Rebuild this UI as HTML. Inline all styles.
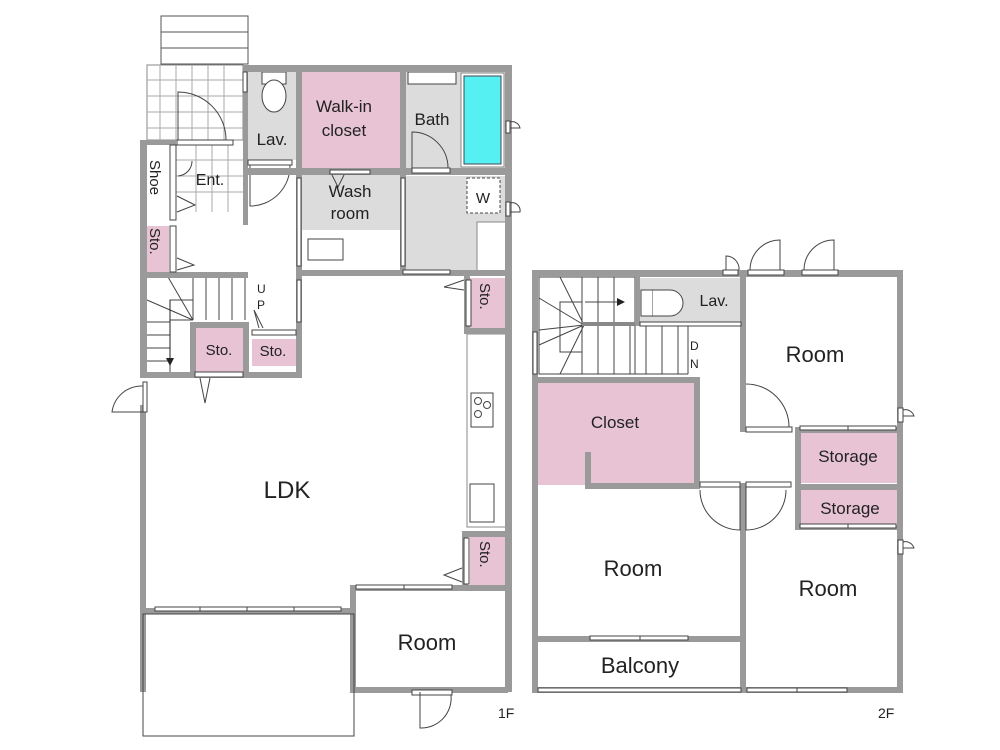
<!DOCTYPE html>
<html><head><meta charset="utf-8"><style>
html,body{margin:0;padding:0;background:#fff;}
svg{display:block;}
text{font-family:"Liberation Sans",sans-serif;fill:#222;}
</style></head><body>
<svg width="1000" height="750" viewBox="0 0 1000 750" xmlns="http://www.w3.org/2000/svg">
<!-- fills 1F -->
<g>
<rect x="147" y="65" width="96" height="75" fill="#fff" stroke="#888" stroke-width="1"/>
<g stroke="#aaa" stroke-width="1">
<line x1="160" y1="65" x2="160" y2="140"/><line x1="176" y1="65" x2="176" y2="140"/><line x1="192" y1="65" x2="192" y2="140"/><line x1="208" y1="65" x2="208" y2="140"/><line x1="224" y1="65" x2="224" y2="140"/>
<line x1="147" y1="80" x2="243" y2="80"/><line x1="147" y1="96" x2="243" y2="96"/><line x1="147" y1="112" x2="243" y2="112"/><line x1="147" y1="128" x2="243" y2="128"/>
<line x1="176" y1="160" x2="244" y2="160"/><line x1="176" y1="176" x2="244" y2="176"/><line x1="176" y1="192" x2="244" y2="192"/>
<line x1="196" y1="145" x2="196" y2="212"/><line x1="212" y1="145" x2="212" y2="212"/><line x1="228" y1="145" x2="228" y2="212"/>
</g>
<rect x="161" y="16" width="87" height="48" fill="#fff" stroke="#555" stroke-width="1"/>
<line x1="161" y1="32" x2="248" y2="32" stroke="#555"/><line x1="161" y1="48" x2="248" y2="48" stroke="#555"/>
<path d="M178 140 V92 A48 48 0 0 1 226 140" fill="none" stroke="#444" stroke-width="1"/>
<rect x="247" y="72" width="50" height="88" fill="#dcdcdc"/>
<rect x="262" y="72" width="24" height="12" fill="#fff" stroke="#444"/>
<ellipse cx="274" cy="96" rx="12" ry="16" fill="#fff" stroke="#444"/>
<rect x="302" y="72" width="98" height="96" fill="#e7c3d3"/>
<rect x="406" y="72" width="100" height="98" fill="#dcdcdc"/>
<rect x="408" y="72" width="48" height="12" fill="#fff" stroke="#444"/>
<rect x="461" y="73" width="43" height="94" fill="#fff" stroke="#888"/>
<rect x="464" y="76" width="37" height="88" fill="#55f0f2" stroke="#445" stroke-width="1"/>
<path d="M412 168 V132 A36 36 0 0 1 448 168" fill="none" stroke="#444"/>
<rect x="302" y="175" width="98" height="55" fill="#dcdcdc"/>
<rect x="308" y="239" width="35" height="21" fill="#fff" stroke="#444"/>
<rect x="406" y="176" width="102" height="96" fill="#dcdcdc"/>
<rect x="477" y="222" width="29" height="50" fill="#fff" stroke="#888"/>
<rect x="467" y="178" width="33" height="35" fill="#fff" stroke="#444" stroke-dasharray="3,2"/>
<text x="483" y="203" font-size="15" text-anchor="middle">W</text>
<path d="M250 165 V206 A40 40 0 0 0 290 165" fill="none" stroke="#444"/>
<rect x="147" y="145" width="22" height="75" fill="#fff"/>
<rect x="147" y="226" width="22" height="46" fill="#e7c3d3"/>
<rect x="470" y="278" width="36" height="50" fill="#e7c3d3"/>
<rect x="467" y="334" width="39" height="193" fill="#fff" stroke="#888"/>
<rect x="471" y="393" width="22" height="34" fill="#fff" stroke="#444"/>
<circle cx="478" cy="401" r="3.5" fill="none" stroke="#444"/><circle cx="487" cy="405" r="3.5" fill="none" stroke="#444"/><circle cx="478" cy="414" r="3.5" fill="none" stroke="#444"/>
<rect x="470" y="484" width="24" height="38" fill="#fff" stroke="#444"/>
<rect x="470" y="537" width="36" height="48" fill="#e7c3d3"/>
<rect x="195" y="328" width="48" height="45" fill="#e7c3d3"/>
<rect x="252" y="339" width="44" height="27" fill="#e7c3d3"/>
<!-- stairs 1F -->
<g stroke="#444" stroke-width="1" fill="none">
<line x1="193" y1="277" x2="193" y2="320"/><line x1="206" y1="277" x2="206" y2="320"/><line x1="219" y1="277" x2="219" y2="320"/><line x1="232" y1="277" x2="232" y2="320"/><line x1="245" y1="277" x2="245" y2="320"/>
<polyline points="170,372 170,300 193,300"/>
<line x1="147" y1="300" x2="193" y2="320"/><line x1="168" y1="277" x2="193" y2="320"/>
<line x1="147" y1="322" x2="170" y2="322"/><line x1="147" y1="335" x2="170" y2="335"/><line x1="147" y1="348" x2="170" y2="348"/><line x1="147" y1="361" x2="170" y2="361"/>
<line x1="170" y1="320" x2="193" y2="320"/>
</g>
<path d="M170 300 V360" stroke="#222"/><path d="M166 358 L170 366 L174 358Z" fill="#222"/>
<text x="257" y="293" font-size="12" fill="#444">U</text><text x="257" y="309" font-size="12" fill="#444">P</text>
</g>
<!-- walls 1F -->
<g fill="#9a9a9a">
<rect x="140" y="140" width="7" height="238"/>
<rect x="140" y="140" width="36" height="5"/>
<rect x="140" y="405" width="6" height="287"/>
<rect x="243" y="65" width="263" height="7"/>
<rect x="243" y="65" width="5" height="160"/>
<rect x="296" y="65" width="6" height="110"/>
<rect x="400" y="65" width="6" height="110"/>
<rect x="505" y="65" width="7" height="627"/>
<rect x="243" y="168" width="263" height="7"/>
<rect x="296" y="175" width="6" height="200"/>
<rect x="400" y="175" width="6" height="100"/>
<rect x="296" y="270" width="210" height="6"/>
<rect x="140" y="272" width="108" height="6"/>
<rect x="140" y="372" width="162" height="6"/>
<rect x="190" y="322" width="6" height="53"/>
<rect x="190" y="322" width="58" height="6"/>
<rect x="243" y="322" width="6" height="53"/>
<rect x="464" y="275" width="6" height="56"/>
<rect x="464" y="328" width="44" height="6"/>
<rect x="462" y="532" width="6" height="56"/>
<rect x="462" y="531" width="46" height="6"/>
<rect x="140" y="608" width="215" height="6"/>
<rect x="350" y="585" width="6" height="107"/>
<rect x="350" y="585" width="158" height="6"/>
<rect x="350" y="687" width="158" height="6"/>
</g>
<!-- doors/windows 1F -->
<g fill="#fff" stroke="#444" stroke-width="1">
<rect x="170" y="145" width="6" height="75"/>
<rect x="170" y="226" width="6" height="46"/>
<rect x="177" y="140" width="56" height="5"/>
<rect x="248" y="160" width="44" height="5"/>
<rect x="330" y="170" width="40" height="4"/>
<rect x="412" y="168" width="38" height="5"/>
<rect x="297" y="178" width="4" height="88"/>
<rect x="401" y="178" width="4" height="88"/>
<rect x="297" y="280" width="4" height="42"/>
<rect x="403" y="270" width="47" height="4"/>
<rect x="466" y="280" width="5" height="46"/>
<rect x="464" y="538" width="5" height="46"/>
<rect x="252" y="330" width="44" height="5"/>
<rect x="195" y="372" width="48" height="5"/>
<rect x="143" y="382" width="4" height="30"/>
<rect x="155" y="607" width="45" height="4"/><rect x="200" y="607" width="47" height="4"/><rect x="247" y="607" width="47" height="4"/><rect x="294" y="607" width="47" height="4"/>
<rect x="356" y="585" width="48" height="4"/><rect x="404" y="585" width="48" height="4"/>
<rect x="412" y="690" width="40" height="5"/>
<rect x="506" y="121" width="4" height="12"/><rect x="506" y="202" width="4" height="14"/>
<rect x="243" y="72" width="4" height="20"/>
</g>
<g fill="none" stroke="#444" stroke-width="1">
<path d="M143 386 A30 30 0 0 0 112 412 H143"/>
<path d="M420 692 V728 A30 30 0 0 0 451 695"/>
<path d="M510 122 A8 8 0 0 1 520 128 H510"/>
<path d="M510 203 A8 8 0 0 1 520 212 H510"/>
<path d="M178 176 A15 15 0 0 0 192 161"/>
<path d="M177 196 L195 205 L177 212"/><path d="M177 258 L194 265 L177 270"/>
<path d="M200 378 L205 403 L210 378"/><path d="M259 328 L254 310 L263 328"/>
<path d="M332 175 L338 187 L344 175"/>
<path d="M464 280 L444 287 L464 290"/><path d="M462 568 L444 575 L462 582"/>
<rect x="143" y="614" width="211" height="122"/>
</g>
<!-- 2F fills -->
<rect x="640" y="278" width="101" height="44" fill="#dcdcdc"/>
<rect x="641" y="290" width="12" height="26" fill="#fff" stroke="#444"/>
<path d="M653 290 H670 A13 13 0 0 1 670 316 H653" fill="#fff" stroke="#444"/>
<rect x="538" y="383" width="156" height="102" fill="#e7c3d3"/>
<rect x="799" y="432" width="98" height="51" fill="#e7c3d3"/>
<rect x="799" y="490" width="98" height="34" fill="#e7c3d3"/>
<g stroke="#444" stroke-width="1" fill="none">
<rect x="539" y="277" width="96" height="97"/>
<line x1="582" y1="277" x2="582" y2="325"/><line x1="598" y1="277" x2="598" y2="325"/><line x1="614" y1="277" x2="614" y2="325"/>
<line x1="582" y1="325" x2="582" y2="374"/><line x1="598" y1="325" x2="598" y2="374"/><line x1="614" y1="325" x2="614" y2="374"/><line x1="630" y1="325" x2="630" y2="374"/><line x1="646" y1="325" x2="646" y2="374"/><line x1="662" y1="325" x2="662" y2="374"/><line x1="678" y1="325" x2="678" y2="374"/>
<line x1="635" y1="374" x2="688" y2="374"/><line x1="635" y1="325" x2="688" y2="325"/><line x1="688" y1="325" x2="688" y2="374"/>
<polyline points="582,302 560,302 560,352 582,352"/>
<line x1="539" y1="298" x2="584" y2="325"/><line x1="560" y1="277" x2="584" y2="325"/><line x1="539" y1="345" x2="584" y2="325"/><line x1="560" y1="374" x2="584" y2="325"/>
<line x1="539" y1="330" x2="584" y2="325"/>
<line x1="585" y1="302" x2="620" y2="302"/>
</g>
<path d="M617 298 L625 302 L617 306Z" fill="#222"/>
<rect x="582" y="322" width="54" height="4" fill="#888"/>
<text x="690" y="350" font-size="12" fill="#444">D</text><text x="690" y="368" font-size="12" fill="#444">N</text>
<!-- 2F walls -->
<g fill="#9a9a9a">
<rect x="532" y="270" width="371" height="7"/>
<rect x="532" y="270" width="6" height="423"/>
<rect x="897" y="270" width="6" height="423"/>
<rect x="532" y="687" width="371" height="6"/>
<rect x="635" y="277" width="5" height="48"/>
<rect x="740" y="270" width="6" height="162"/>
<rect x="532" y="377" width="168" height="6"/>
<rect x="694" y="377" width="6" height="110"/>
<rect x="585" y="483" width="115" height="6"/><rect x="585" y="452" width="6" height="35"/>
<rect x="740" y="483" width="6" height="210"/>
<rect x="795" y="427" width="6" height="103"/>
<rect x="795" y="427" width="108" height="6"/>
<rect x="795" y="484" width="108" height="6"/>
<rect x="795" y="525" width="108" height="5"/>
<rect x="532" y="636" width="211" height="6"/>
</g>
<g fill="#fff" stroke="#444" stroke-width="1">
<rect x="640" y="322" width="101" height="4"/>
<rect x="723" y="270" width="15" height="5"/><rect x="748" y="270" width="36" height="5"/><rect x="802" y="270" width="36" height="5"/>
<rect x="746" y="427" width="46" height="5"/>
<rect x="700" y="482" width="40" height="5"/><rect x="746" y="482" width="45" height="5"/>
<rect x="800" y="426" width="48" height="4"/><rect x="848" y="426" width="48" height="4"/>
<rect x="800" y="524" width="48" height="4"/><rect x="848" y="524" width="48" height="4"/>
<rect x="590" y="636" width="50" height="4"/><rect x="640" y="636" width="48" height="4"/>
<rect x="538" y="688" width="203" height="4"/>
<rect x="747" y="688" width="50" height="4"/><rect x="797" y="688" width="50" height="4"/>
<rect x="533" y="332" width="4" height="42"/>
<rect x="898" y="408" width="5" height="14"/><rect x="898" y="540" width="5" height="14"/>
</g>
<g fill="none" stroke="#444" stroke-width="1">
<path d="M726 270 V256 A13 13 0 0 1 739 270"/>
<path d="M780 270 V240 A30 30 0 0 0 750 270"/>
<path d="M834 270 V240 A30 30 0 0 0 804 270"/>
<path d="M746 384 A43 43 0 0 1 789 427"/>
<path d="M740 487 V530 A40 40 0 0 1 700 490"/>
<path d="M746 487 V530 A40 40 0 0 0 786 490"/>
<path d="M903 410 A9 9 0 0 1 914 416 H903"/>
<path d="M903 542 A9 9 0 0 1 914 548 H903"/>
</g>
<!-- labels -->
<text x="344" y="112" font-size="17" text-anchor="middle">Walk-in</text>
<text x="344" y="136" font-size="17" text-anchor="middle">closet</text>
<text x="432" y="125" font-size="17" text-anchor="middle">Bath</text>
<text x="272" y="145" font-size="17" text-anchor="middle">Lav.</text>
<text x="210" y="185" font-size="16" text-anchor="middle">Ent.</text>
<text x="350" y="197" font-size="17" text-anchor="middle">Wash</text>
<text x="350" y="219" font-size="17" text-anchor="middle">room</text>
<text transform="translate(150,160) rotate(90)" font-size="15">Shoe</text>
<text transform="translate(150,228) rotate(90)" font-size="15">Sto.</text>
<text transform="translate(480,283) rotate(90)" font-size="15">Sto.</text>
<text transform="translate(480,541) rotate(90)" font-size="15">Sto.</text>
<text x="219" y="355" font-size="15" text-anchor="middle">Sto.</text>
<text x="273" y="356" font-size="15" text-anchor="middle">Sto.</text>
<text x="287" y="498" font-size="24" text-anchor="middle">LDK</text>
<text x="427" y="650" font-size="22" text-anchor="middle">Room</text>
<text x="498" y="718" font-size="14">1F</text>
<text x="714" y="306" font-size="16" text-anchor="middle">Lav.</text>
<text x="815" y="362" font-size="22" text-anchor="middle">Room</text>
<text x="615" y="428" font-size="17" text-anchor="middle">Closet</text>
<text x="848" y="462" font-size="17" text-anchor="middle">Storage</text>
<text x="850" y="514" font-size="17" text-anchor="middle">Storage</text>
<text x="633" y="576" font-size="22" text-anchor="middle">Room</text>
<text x="828" y="596" font-size="22" text-anchor="middle">Room</text>
<text x="640" y="673" font-size="22" text-anchor="middle">Balcony</text>
<text x="878" y="718" font-size="14">2F</text>
</svg>
</body></html>
